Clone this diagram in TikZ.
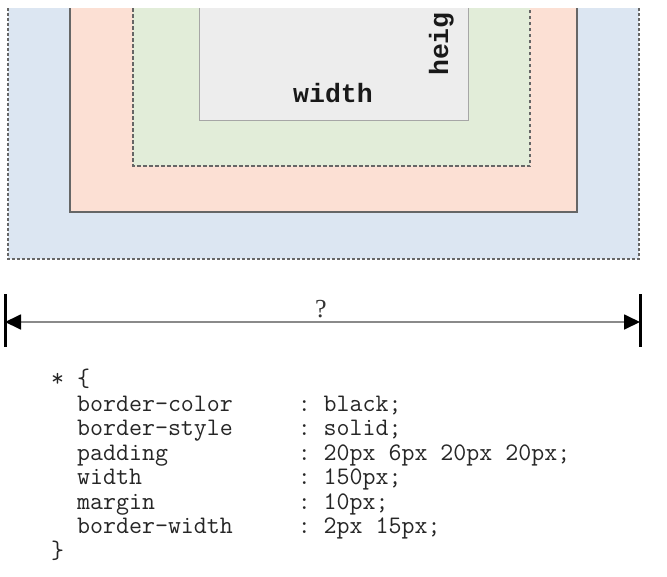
\documentclass[tikz,border=0pt]{standalone}
\usepackage{fontspec}
\setmainfont{Liberation Serif}
\newfontfamily\lblfont{Liberation Mono}
\usetikzlibrary{arrows.meta}
\definecolor{marginc}{HTML}{DCE6F2}
\definecolor{borderc}{HTML}{FCE0D4}
\definecolor{paddingc}{HTML}{E2EDD9}
\definecolor{contentc}{HTML}{EDEDED}
\definecolor{codec}{HTML}{262626}
\definecolor{linec}{HTML}{8A8A8A}
\newcommand{\gapx}[1]{\phantom{#1}}
\tikzset{
  code/.style={anchor=base west, inner sep=0pt, text=codec,
    font=\ttfamily\fontsize{25.2}{24}\selectfont},
  lbl/.style={inner sep=0pt, text=black!90,
    font=\lblfont\bfseries\fontsize{26.5}{27}\selectfont},
  dotborder/.style={draw=black!60, line width=1.2pt, dash pattern=on 3pt off 2pt},
  dashborder/.style={draw=black!60, line width=1.2pt, dash pattern=on 3.5pt off 2.5pt},
  solidborder/.style={draw=black!60, line width=1.3pt},
  thinborder/.style={draw=black!35, line width=1pt},
  bar/.style={draw=black, line width=3pt},
  dimline/.style={draw=linec, line width=1.8pt,
    {Triangle[length=16pt,width=15pt,fill=black,color=black]}-{Triangle[length=16pt,width=15pt,fill=black,color=black]}}
}
\begin{document}
\begin{tikzpicture}[x=1pt,y=-1pt]
\useasboundingbox (0,0) rectangle (667,576);
\fill[white] (0,0) rectangle (667,576);

% margin box
\fill[marginc] (8,8) rectangle (639,259);
\draw[dotborder] (8,8) -- (8,259) -- (639,259) -- (639,8);
% border box
\fill[borderc] (70,8) rectangle (577,212);
\draw[solidborder] (70,8) -- (70,212) -- (577,212) -- (577,8);
% padding box
\fill[paddingc] (133,8) rectangle (530,166);
\draw[dashborder] (133,8) -- (133,166) -- (530,166) -- (530,8);
% content box
\fill[contentc] (199,8) rectangle (468,120);
\draw[thinborder] (199,8) -- (199,120) -- (468,120) -- (468,8);

\node[lbl, anchor=base] (w) at (333,102) {width};
\node[lbl, rotate=90, anchor=base west] (h) at (448,76) {heig};

% dimension arrow
\coordinate (L) at (5,322);
\coordinate (R) at (640,322);
\coordinate (Lt) at (5,294);
\coordinate (Lb) at (5,347);
\coordinate (Rt) at (640,294);
\coordinate (Rb) at (640,347);
\draw[bar] (Lt) -- (Lb);
\draw[bar] (Rt) -- (Rb);
\draw[dimline] (L) -- (R);
\node[inner sep=0pt, anchor=base, font=\fontsize{26}{26}\selectfont, text=black!80] (q) at (321,317) {?};

% code
\node[code] (c0) at (51,386.5) {*\gapx{x}\{};
\node[code] (c1) at (51,411) {\gapx{xx}border-color\gapx{xxxxx}:\gapx{x}black;};
\node[code] (c2) at (51,435.5) {\gapx{xx}border-style\gapx{xxxxx}:\gapx{x}solid;};
\node[code] (c3) at (51,460) {\gapx{xx}padding\gapx{xxxxxxxxxx}:\gapx{x}20px\gapx{x}6px\gapx{x}20px\gapx{x}20px;};
\node[code] (c4) at (51,484.5) {\gapx{xx}width\gapx{xxxxxxxxxxxx}:\gapx{x}150px;};
\node[code] (c5) at (51,509) {\gapx{xx}margin\gapx{xxxxxxxxxxx}:\gapx{x}10px;};
\node[code] (c6) at (51,533.5) {\gapx{xx}border-width\gapx{xxxxx}:\gapx{x}2px\gapx{x}15px;};
\node[code] (c7) at (51,558) {\}};
\end{tikzpicture}
\end{document}
